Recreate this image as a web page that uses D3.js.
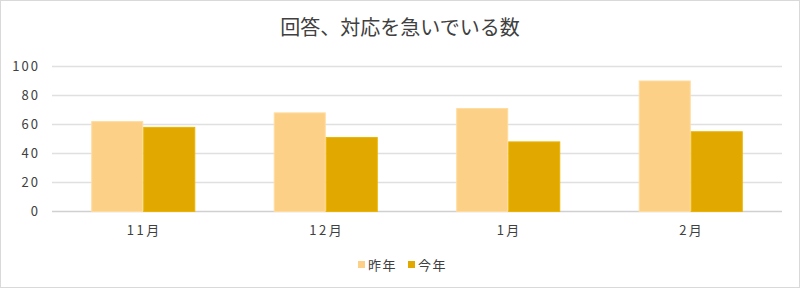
<!DOCTYPE html>
<html>
<head>
<meta charset="utf-8">
<script src="https://cdnjs.cloudflare.com/ajax/libs/d3/7.8.5/d3.min.js"></script>
<style>
  body { margin: 0; background: #fff; }
  text { font-family: "Noto Sans CJK JP", "Noto Sans", sans-serif; }
</style>
</head>
<body>
<div class="chart"></div>
<script>
const width = 800;
const height = 288;

const title = "回答、対応を急いでいる数";
const months = ["11月", "12月", "1月", "2月"];
const seriesNames = ["昨年", "今年"];
const lastYear = [62, 68, 71, 90];
const thisYear = [58, 51, 48, 55];
const yTicks = [0, 20, 40, 60, 80, 100];

const fills = ["#fdd088", "#e1a800"];
const strokes = ["#ffdc9e", "#ebb400"];

const margin = {left: 52, right: 18, top: 66, bottom: 77};

const svg = d3.select(".chart")
  .append("svg")
  .attr("width", width)
  .attr("height", height);

// outer frame
svg.append("rect")
  .attr("x", 0.5).attr("y", 0.5)
  .attr("width", width - 1).attr("height", height - 1)
  .attr("fill", "#fff")
  .attr("stroke", "#d9d9d9");

svg.append("text")
  .attr("x", width / 2)
  .attr("y", 35)
  .attr("text-anchor", "middle")
  .attr("font-size", "20px")
  .attr("fill", "#404040")
  .text(title);

let xScale = d3.scaleBand()
  .domain(months)
  .range([margin.left, width - margin.right])
  .paddingInner(0.43)
  .paddingOuter(0.215);

let xSub = d3.scaleBand()
  .domain(seriesNames)
  .range([0, xScale.bandwidth()]);

let yScale = d3.scaleLinear()
  .domain([0, 100])
  .range([height - margin.bottom, margin.top]);

// gridlines
svg.append("g")
  .selectAll("line")
  .data(yTicks)
  .enter()
  .append("line")
  .attr("x1", margin.left)
  .attr("x2", width - margin.right)
  .attr("y1", d => Math.round(yScale(d)) + 0.5)
  .attr("y2", d => Math.round(yScale(d)) + 0.5)
  .attr("stroke", d => d === 0 ? "#d0d0d0" : "#e0e0e0")
  .attr("stroke-width", 1.5);

// y labels
svg.append("g")
  .selectAll("text")
  .data(yTicks)
  .enter()
  .append("text")
  .attr("x", 40)
  .attr("y", d => yScale(d) + 4.5)
  .attr("text-anchor", "end")
  .attr("font-size", "13px")
  .attr("fill", "#404040")
  .attr("letter-spacing", "2px")
  .text(d => d);

const rows = months.map((m, i) => ({month: m, values: [lastYear[i], thisYear[i]]}));

const groups = svg.append("g")
  .selectAll("g")
  .data(rows)
  .enter()
  .append("g")
  .attr("transform", d => "translate(" + xScale(d.month) + ",0)");

groups.selectAll("rect")
  .data(d => d.values.map((v, j) => ({name: seriesNames[j], value: v, j: j})))
  .enter()
  .append("rect")
  .attr("x", d => xSub(d.name) + 0.5)
  .attr("y", d => yScale(d.value) + 0.5)
  .attr("width", xSub.bandwidth() - 1)
  .attr("height", d => yScale(0) - yScale(d.value))
  .attr("fill", d => fills[d.j])
  .attr("stroke", d => strokes[d.j])
  .attr("stroke-width", 1);

// x labels
svg.append("g")
  .selectAll("text")
  .data(months)
  .enter()
  .append("text")
  .attr("x", d => xScale(d) + xScale.bandwidth() / 2 + 1)
  .attr("y", 235)
  .attr("text-anchor", "middle")
  .attr("font-size", "13px")
  .attr("fill", "#404040")
  .attr("letter-spacing", "2.5px")
  .text(d => d);

// legend
const legend = svg.append("g");
const legendX = [358, 408];
seriesNames.forEach((name, i) => {
  legend.append("rect")
    .attr("x", legendX[i])
    .attr("y", 261)
    .attr("width", 7)
    .attr("height", 7)
    .attr("fill", fills[i]);
  legend.append("text")
    .attr("x", legendX[i] + 10)
    .attr("y", 270)
    .attr("font-size", "13px")
    .attr("fill", "#404040")
    .attr("letter-spacing", "1.5px")
    .text(name);
});
</script>
</body>
</html>
